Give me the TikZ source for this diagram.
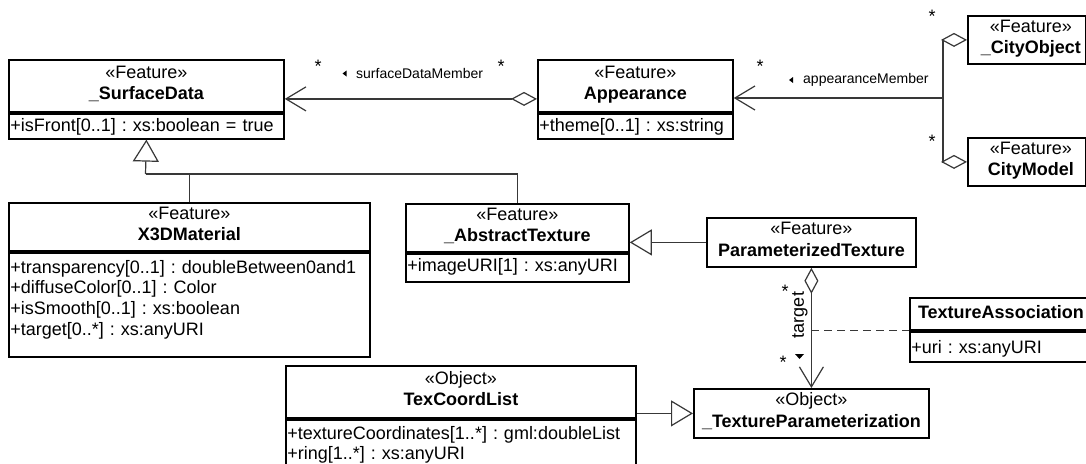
\documentclass[tikz,border=0pt]{standalone}
\usepackage{fontspec}
\setmainfont{Liberation Sans}
\usetikzlibrary{arrows.meta}
\frenchspacing
\begin{document}
\begin{tikzpicture}[x=1pt,y=-1pt,
  cls/.style={draw=black, line width=1.8pt, anchor=north west, inner sep=0pt,
    align=center, font=\fontsize{18}{21.5}\selectfont,
    execute at begin node=\strut, execute at end node=\strut},
  attr/.style={draw=black, line width=1.8pt, anchor=north west, inner xsep=1.5pt,
    inner ysep=0pt, align=left, font=\fontsize{18}{20.7}\selectfont},
  link/.style={draw=black!78, line width=1.2pt},
  nav/.style={link, -{Straight Barb[length=20pt, width=24pt]}},
  gen/.style={link, -{Triangle[length=22pt, width=26pt, fill=white]}},
  agg/.style={link, {Diamond[length=26pt, width=14pt, fill=white]}-},
  aggnav/.style={link, {Diamond[length=26pt, width=14pt, fill=white]}-{Straight Barb[length=20pt, width=24pt]}},
  mult/.style={font=\fontsize{18}{20}\selectfont, inner sep=0pt, anchor=base},
  role/.style={font=\fontsize{14}{16}\selectfont, inner sep=0pt, anchor=base west},
]
\useasboundingbox (0,0) rectangle (1086,463);
\fill[white] (0,0) rectangle (1086,463);

% ---- classes (header + attribute compartment) ----
\node[cls, minimum width=275pt, minimum height=52pt] (sdH) at (8,59)
  {«Feature»\\\textbf{\_SurfaceData}};
\node[attr, text width=272pt, text height=17.5pt, text depth=7.5pt] (sdA) at (sdH.south west)
  {+isFront[0..1] : xs:boolean = true};

\node[cls, minimum width=195pt, minimum height=52pt] (apH) at (537,59)
  {«Feature»\\\textbf{Appearance}};
\node[attr, text width=192pt, text height=17.5pt, text depth=7.5pt] (apA) at (apH.south west)
  {+theme[0..1] : xs:string};

\node[cls, minimum width=118pt, minimum height=48pt] (coH) at (967,15)
  {\hspace*{8pt}«Feature»\\\hspace*{8pt}\textbf{\_CityObject}};
\node[cls, minimum width=118pt, minimum height=48pt] (cmH) at (967,137)
  {\hspace*{8pt}«Feature»\\\hspace*{8pt}\textbf{CityModel}};

\node[cls, minimum width=361pt, minimum height=48pt] (x3H) at (8,202)
  {«Feature»\\\textbf{X3DMaterial}};
\node[attr, text width=358pt, text height=20.5pt, text depth=83.5pt] (x3A) at (x3H.south west)
  {+transparency[0..1] : doubleBetween0and1\\+diffuseColor[0..1] : Color\\+isSmooth[0..1] : xs:boolean\\+target[0..*] : xs:anyURI};

\node[cls, minimum width=223pt, minimum height=48pt] (atH) at (405,203)
  {«Feature»\\\textbf{\_AbstractTexture}};
\node[attr, text width=220pt, text height=18pt, text depth=10pt] (atA) at (atH.south west)
  {+imageURI[1] : xs:anyURI};

\node[cls, minimum width=209pt, minimum height=49pt] (ptH) at (706,217)
  {«Feature»\\\textbf{ParameterizedTexture}};

\node[cls, minimum width=182pt, minimum height=32pt, execute at begin node={}, execute at end node={}] (taH) at (909,297)
  {\textbf{TextureAssociation}};
\node[attr, text width=179pt, text height=22pt, text depth=8pt] (taA) at (taH.south west)
  {+uri : xs:anyURI};

\node[cls, minimum width=350pt, minimum height=52pt] (tcH) at (285,365)
  {«Object»\\\textbf{TexCoordList}};
\node[attr, text width=347pt, text height=19.5pt, text depth=27.5pt] (tcA) at (tcH.south west)
  {+textureCoordinates[1..*] : gml:doubleList\\+ring[1..*] : xs:anyURI};

\node[cls, minimum width=235pt, minimum height=49pt] (tpH) at (693,388)
  {«Object»\\\textbf{\_TextureParameterization}};

% ---- connectors ----
\draw[aggnav] ([yshift=-13pt]apH.west) -- ([yshift=-13pt]sdH.east);

\coordinate (jn) at (943,98);
\draw[agg] (coH.west) -| (jn);
\draw[agg] (cmH.west) -| (jn);
\draw[nav] (jn) -- (jn -| apH.east);

\coordinate (gj) at (145.5,174);
\draw[link] (x3H.north) |- (gj);
\draw[link] (atH.north) |- (gj);
\draw[gen] (gj) -- (sdA.south);

\draw[gen] (ptH.west) -- (ptH.west -| atH.east);
\draw[gen] (tcH.east |- tpH.west) -- (tpH.west);

\draw[aggnav] (ptH.south) -- (tpH.north);
\coordinate (ac) at (ptH.south |- taH.south west);
\draw[link, dash pattern=on 8pt off 5pt] (ac) -- (taH.south west);

% ---- association labels ----
\node[mult] (m1) at (318,72) {*};
\node[mult] (m2) at (501,72) {*};
\node[role] (sdm) at (356,78) {surfaceDataMember};
\fill (342.5,73.5) -- (346.5,70.5) -- (346.5,76.5) -- cycle;

\node[mult] (m3) at (760,72) {*};
\node[mult] (m4) at (932,22) {*};
\node[mult] (m5) at (932,147) {*};
\node[role] (apm) at (803,83) {appearanceMember};
\fill (789,80) -- (793,77) -- (793,83) -- cycle;

\node[mult] (m6) at (785,297) {*};
\node[mult] (m7) at (783,368) {*};
\node[font=\fontsize{18}{21}\selectfont, inner sep=0pt, rotate=90] (tg) at (800,315) {target};
\fill (795,354) -- (804,354) -- (799.5,359) -- cycle;
\end{tikzpicture}
\end{document}
